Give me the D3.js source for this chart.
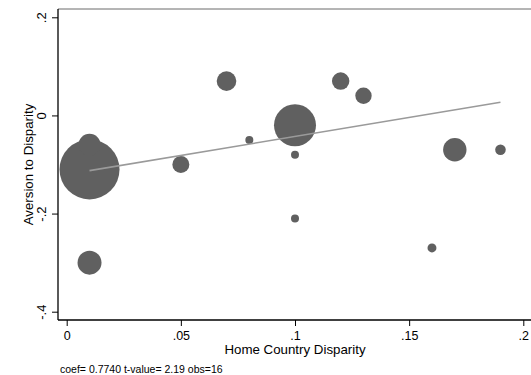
<!DOCTYPE html>
<html>
<head>
<meta charset="utf-8">
<script src="https://cdn.jsdelivr.net/npm/d3@7"></script>
<style>
  html, body { margin: 0; padding: 0; background: #fff; }
  svg { display: block; font-family: "Liberation Sans", Arial, Helvetica, sans-serif; }
</style>
</head>
<body>
<svg id="chart" width="531" height="375"></svg>
<script>
// Home country disparity vs. aversion to disparity, bubble size = weight
const homeDisparity = [0.01, 0.01, 0.01, 0.05, 0.07, 0.08, 0.10, 0.10, 0.10, 0.12, 0.13, 0.16, 0.17, 0.19];
const aversion      = [-0.11, -0.06, -0.30, -0.10, 0.07, -0.05, -0.02, -0.08, -0.21, 0.07, 0.04, -0.27, -0.07, -0.07];
const weights       = [900, 121, 144, 72, 96, 16, 441, 16, 16, 76, 67, 20, 137, 28];

// Weighted linear fit
const fitIntercept = -0.1203;
const fitSlope = 0.7740;
const fitRange = [0.01, 0.19];

const xTicks = [0, 0.05, 0.1, 0.15, 0.2];
const xTickLabels = ["0", ".05", ".1", ".15", ".2"];
const yTicks = [-0.4, -0.2, 0, 0.2];
const yTickLabels = ["-.4", "-.2", "0", ".2"];

const xTitle = "Home Country Disparity";
const yTitle = "Aversion to Disparity";
const note = "coef= 0.7740 t-value= 2.19 obs=16";

const svg = d3.select("#chart");
const W = 531;

const frame = { left: 58, top: 9, bottom: 320, right: W };

const x = d3.scaleLinear().domain([0, 0.2]).range([66.7, 523.3]);
const y = d3.scaleLinear().domain([-0.4, 0.2]).range([311.7, 17.3]);
const r = d3.scaleSqrt().domain([0, 900]).range([0, 30]);

// Plot region outline (top)
svg.append("line")
  .attr("x1", frame.left).attr("x2", frame.right)
  .attr("y1", frame.top).attr("y2", frame.top)
  .attr("stroke", "#6a6a6a").attr("stroke-width", 1);

// Bubbles, largest drawn first
const idx = d3.range(homeDisparity.length).sort((a, b) => weights[b] - weights[a]);
svg.append("g")
  .selectAll("circle")
  .data(idx)
  .join("circle")
  .attr("cx", i => x(homeDisparity[i]))
  .attr("cy", i => y(aversion[i]))
  .attr("r", i => r(weights[i]))
  .attr("fill", "#606060");

// Fitted line
const fitLine = d3.line().x(d => x(d)).y(d => y(fitIntercept + fitSlope * d));
svg.append("path")
  .datum(fitRange)
  .attr("d", fitLine)
  .attr("fill", "none")
  .attr("stroke", "#9a9a9a")
  .attr("stroke-width", 1.6);

// Y axis
const yAxis = d3.axisLeft(y)
  .tickValues(yTicks)
  .tickSize(6)
  .tickFormat((d, i) => yTickLabels[i]);
const gy = svg.append("g").attr("transform", `translate(${frame.left},0)`).call(yAxis);
gy.select(".domain").remove();
gy.selectAll(".tick line").attr("stroke", "#000").attr("stroke-width", 1);
gy.selectAll(".tick text")
  .attr("x", null).attr("dy", null)
  .attr("transform", "translate(-12,0) rotate(-90)")
  .attr("text-anchor", "middle")
  .attr("font-size", 13)
  .attr("fill", "#000");

svg.append("line")
  .attr("x1", frame.left).attr("x2", frame.left)
  .attr("y1", frame.top).attr("y2", frame.bottom)
  .attr("stroke", "#000").attr("stroke-width", 1.3);

// X axis
const xAxis = d3.axisBottom(x)
  .tickValues(xTicks)
  .tickSize(6)
  .tickFormat((d, i) => xTickLabels[i]);
const gx = svg.append("g").attr("transform", `translate(0,${frame.bottom})`).call(xAxis);
gx.select(".domain").remove();
gx.selectAll(".tick line").attr("stroke", "#000").attr("stroke-width", 1);
gx.selectAll(".tick text")
  .attr("y", 20).attr("dy", null)
  .attr("font-size", 12.5)
  .attr("fill", "#000");

svg.append("line")
  .attr("x1", frame.left).attr("x2", frame.right)
  .attr("y1", frame.bottom).attr("y2", frame.bottom)
  .attr("stroke", "#000").attr("stroke-width", 1.3);

// Axis titles
svg.append("text")
  .attr("x", x(0.1)).attr("y", 354)
  .attr("text-anchor", "middle")
  .attr("font-size", 13.3)
  .text(xTitle);

svg.append("text")
  .attr("transform", `translate(33,${(frame.top + frame.bottom) / 2}) rotate(-90)`)
  .attr("text-anchor", "middle")
  .attr("font-size", 13.3)
  .text(yTitle);

// Note
svg.append("text")
  .attr("x", 60).attr("y", 372.5)
  .attr("font-size", 10.5)
  .text(note);
</script>
</body>
</html>
